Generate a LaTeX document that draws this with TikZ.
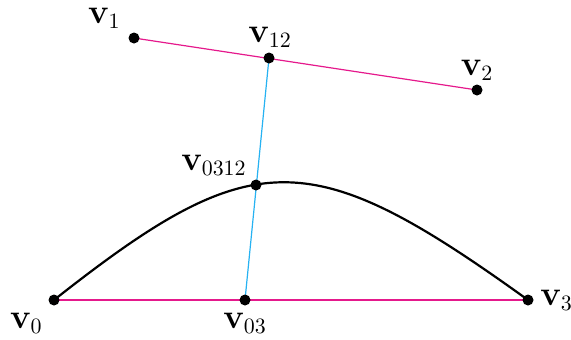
\documentclass[tikz,border=0pt]{standalone}
\usepackage{amsmath,amssymb}
\usetikzlibrary{positioning,calc,backgrounds}
\definecolor{hullpink}{rgb}{0.9,0.1,0.55}
\definecolor{linkblue}{rgb}{0.15,0.7,0.95}

\begin{document}
\begin{tikzpicture}[x=0.5pt,y=-0.5pt,
    every node/.style={font=\fontsize{16}{19}\selectfont},
    pt/.style={circle,fill=black,inner sep=0pt,minimum size=5.5pt},
    lbl/.style={inner sep=0pt}]
  \useasboundingbox (0,0) rectangle (571,339);
  % control points and midpoints
  \node[pt] (v0) at (54,300) {};
  \node[pt] (v1) at (134,38) {};
  \node[pt] (v2) at (477,90) {};
  \node[pt] (v3) at (528,300) {};
  \node[pt] (v12) at (269,58) {};
  \node[pt] (v03) at (245,300) {};
  \node[pt] (v0312) at (256,185) {};
  % connectors
  \begin{scope}[on background layer]
  \draw[hullpink,line width=0.6pt] (v1.center)--(v2.center);\draw[hullpink,line width=0.6pt] (v0.center)--(v3.center);
  \draw[linkblue,line width=0.6pt] (v12.center)--(v03.center);
  \draw[line width=1.1pt] (v0.center) .. controls (253,143) and (310,143) .. (v3.center);
  \end{scope}
  % labels
  \node[lbl,anchor=south east] (l1) at (121,29) {$\mathbf{v}_1$};
  \node[lbl,anchor=south] (l12) at (270,48) {$\mathbf{v}_{12}$};
  \node[lbl,anchor=south] (l2) at (477,81) {$\mathbf{v}_2$};
  \node[lbl,anchor=south east] (l0312) at (247,176) {$\mathbf{v}_{0312}$};
  \node[lbl,anchor=north east] (l0) at (43,313) {$\mathbf{v}_0$};
  \node[lbl,anchor=north] (l03) at (245,313) {$\mathbf{v}_{03}$};
  \node[lbl,anchor=base west] (l3) at (540,305) {$\mathbf{v}_3$};
\end{tikzpicture}
\end{document}
